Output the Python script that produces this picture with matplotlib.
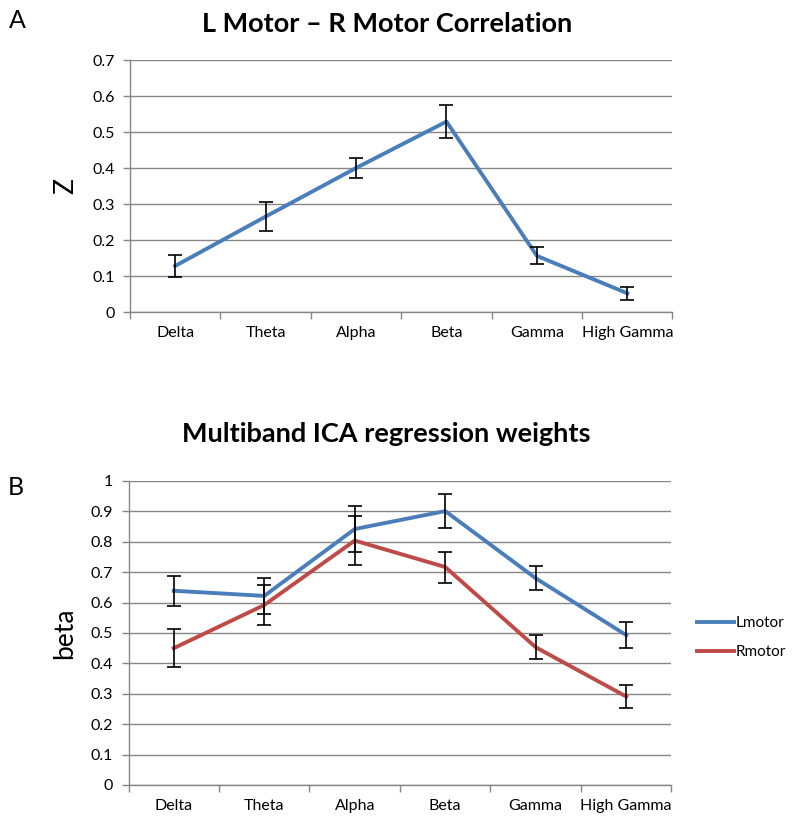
import matplotlib
matplotlib.use("Agg")
import matplotlib.pyplot as plt
import numpy as np

# data
bands = ["Delta", "Theta", "Alpha", "Beta", "Gamma", "High Gamma"]

corr_z = [0.128, 0.265, 0.400, 0.529, 0.156, 0.052]
corr_err = [0.031, 0.040, 0.028, 0.046, 0.024, 0.018]

lmotor = [0.639, 0.622, 0.842, 0.901, 0.680, 0.493]
lmotor_err = [0.050, 0.058, 0.077, 0.056, 0.039, 0.042]
rmotor = [0.450, 0.592, 0.804, 0.717, 0.453, 0.291]
rmotor_err = [0.062, 0.066, 0.081, 0.051, 0.040, 0.037]

plt.rcParams['font.family'] = ['Lato', 'DejaVu Sans']

blue = "#4A7EBB"
red = "#BE4B48"
grey = "#868686"

fig = plt.figure(figsize=(7.95, 8.24), dpi=100)
axA = fig.add_axes([130/795, 1-312/824, 542.5/795, 252/824])
axB = fig.add_axes([128.5/795, 1-785/824, 543/795, 304/824])

def style_axes(ax, ymax, ylabel):
    x = np.arange(len(bands))
    ax.set_xlim(-0.5, len(bands) - 0.5)
    ax.set_ylim(0, ymax)
    ticks = np.round(np.arange(0, ymax + 0.001, 0.1), 1)
    ax.set_yticks(ticks)
    ax.set_yticklabels(["{:g}".format(t) for t in ticks], fontsize=11.5)
    ax.set_xticks(x)
    ax.set_xticklabels(bands, fontsize=11.5)
    ax.set_xticks(np.arange(-0.5, len(bands)), minor=True)
    ax.tick_params(axis='x', which='major', length=0, pad=10)
    ax.tick_params(axis='x', which='minor', length=5, width=1, color=grey)
    ax.tick_params(axis='y', length=5, width=1, color=grey, pad=6)
    for s in ['top', 'right']:
        ax.spines[s].set_visible(False)
    for s in ['left', 'bottom']:
        ax.spines[s].set_color(grey)
        ax.spines[s].set_linewidth(1)
    ax.yaxis.grid(True, color=grey, linewidth=1)
    ax.set_axisbelow(True)
    ax.set_ylabel(ylabel, fontsize=19, labelpad=10)

x = np.arange(len(bands))

# panel A
style_axes(axA, 0.7, "Z")
axA.plot(x, corr_z, color=blue, linewidth=2.8, zorder=3)
axA.errorbar(x, corr_z, yerr=corr_err, fmt='none', ecolor='black',
             elinewidth=1.2, capsize=5, capthick=1.2, zorder=4)
axA.set_title("L Motor \u2013 R Motor Correlation", fontsize=19.5,
              fontweight='bold', pad=20, x=(387-130)/542.5)
fig.text(17/795, 1-20/824, "A", fontsize=18, ha='center', va='center')

# panel B
style_axes(axB, 1.0, "beta")
axB.plot(x, lmotor, color=blue, linewidth=2.8, zorder=3, label="Lmotor")
axB.plot(x, rmotor, color=red, linewidth=2.8, zorder=3, label="Rmotor")
axB.errorbar(x, lmotor, yerr=lmotor_err, fmt='none', ecolor='black',
             elinewidth=1.2, capsize=5, capthick=1.2, zorder=4)
axB.errorbar(x, rmotor, yerr=rmotor_err, fmt='none', ecolor='black',
             elinewidth=1.2, capsize=5, capthick=1.2, zorder=4)
axB.set_title("Multiband ICA regression weights", fontsize=19.5,
              fontweight='bold', pad=28, x=(386-128.5)/543)
fig.text(16/795, 1-488/824, "B", fontsize=18, ha='center', va='center')

leg = axB.legend(loc='center left', bbox_to_anchor=(1.03, 0.485), frameon=False,
                 fontsize=11, handlelength=2.4, handletextpad=0.15,
                 labelspacing=1.0, borderaxespad=0.2)

fig.savefig("out.png", dpi=100)
